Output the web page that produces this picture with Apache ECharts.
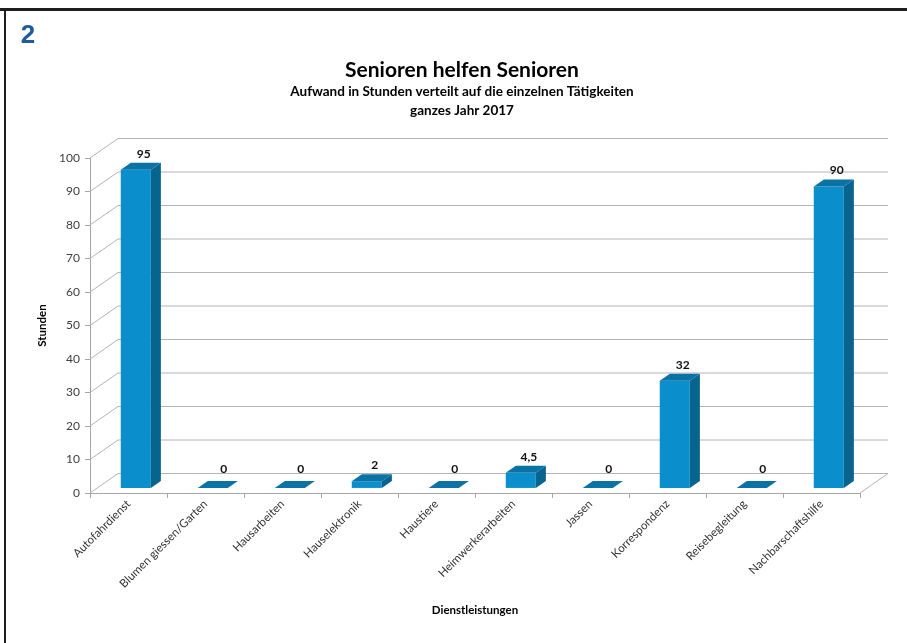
<!DOCTYPE html>
<html>
<head>
<meta charset="utf-8">
<script src="https://cdn.jsdelivr.net/npm/echarts@6/dist/echarts.min.js"></script>
<style>
html,body{margin:0;padding:0;background:#fff;}
#chart{width:907px;height:643px;}
</style>
</head>
<body>
<div id="chart"></div>
<script>
// ---- data ----
const categories = ['Autofahrdienst','Blumen giessen/Garten','Hausarbeiten','Hauselektronik','Haustiere','Heimwerkerarbeiten','Jassen','Korrespondenz','Reisebegleitung','Nachbarschaftshilfe'];
const hours = [95, 0, 0, 2, 0, 4.5, 0, 32, 0, 90];
const yTicks = [0,10,20,30,40,50,60,70,80,90,100];
const titleText = 'Senioren helfen Senioren';
const subtitle1 = 'Aufwand in Stunden verteilt auf die einzelnen Tätigkeiten';
const subtitle2 = 'ganzes Jahr 2017';
const pageNumber = '2';
const xName = 'Dienstleistungen';
const yName = 'Stunden';

// ---- style constants ----
const DX = 28, DY = -19.5;   // depth of the 3D box
const F0 = 0.26, F1 = 0.62;  // bar depth range
const BAR_W = 0.39;          // bar width as share of category band
const FONT = 'Lato, "Liberation Sans", sans-serif';
const GRID_COLOR = '#b4b4b4';

const chart = echarts.init(document.getElementById('chart'), null, {renderer:'canvas'});

function wallItem(params, api) {
  const cs = params.coordSys;
  const v = api.value(1);
  const y = api.coord([0, v])[1];
  const left = cs.x, right = cs.x + cs.width;
  return {
    type: 'polyline',
    shape: {points: [[left, y], [left + DX, y + DY], [right + DX, y + DY]]},
    style: {stroke: GRID_COLOR, lineWidth: 1, fill: null}
  };
}

function floorItem(params, api) {
  const cs = params.coordSys;
  const y = api.coord([0, 0])[1];
  const right = cs.x + cs.width;
  return {
    type: 'line',
    shape: {x1: right, y1: y, x2: right + DX, y2: y + DY},
    style: {stroke: GRID_COLOR, lineWidth: 1}
  };
}

function barItem(params, api) {
  const idx = api.value(0);
  const val = api.value(1);
  const base = api.coord([idx, 0]);
  const band = api.size([1, 0])[0];
  const w = band * BAR_W;
  const cx = base[0] + DX * F0;
  const yb = base[1] + DY * F0;
  const yt = api.coord([idx, val])[1] + DY * F0;
  const ddx = DX * (F1 - F0), ddy = DY * (F1 - F0);
  const xl = cx - w / 2, xr = cx + w / 2;
  const children = [];
  if (yb - yt > 0.5) {
    children.push({type:'rect', shape:{x:xl, y:yt, width:w, height:yb - yt}, style:{fill:'#0b8fcc'}});
    children.push({type:'polygon', shape:{points:[[xr,yt],[xr+ddx,yt+ddy],[xr+ddx,yb+ddy],[xr,yb]]}, style:{fill:'#06648f'}});
  }
  children.push({type:'polygon', shape:{points:[[xl,yt],[xr,yt],[xr+ddx,yt+ddy],[xl+ddx,yt+ddy]]}, style:{fill:'#0b72a6'}});
  const lift = val === 0 ? 12 : 9;
  children.push({type:'text', x: cx + (val === 0 ? 11 : 8), y: yt + ddy - lift,
    style:{text: String(val).replace('.', ','), font: 'bold 12px ' + FONT, fill:'#111', align:'center', verticalAlign:'middle'}});
  return {type:'group', children};
}

const option = {
  animation: false,
  backgroundColor: '#fff',
  graphic: [
    {type:'rect', shape:{x:0, y:8, width:907, height:3}, style:{fill:'#1e1e1e'}},
    {type:'rect', shape:{x:4, y:8, width:2, height:640}, style:{fill:'#1e1e1e'}},
    {type:'text', x:28, y:36, style:{text:pageNumber, font:'bold 26px "Liberation Sans", Arial, sans-serif', fill:'#1f5a9b', align:'center', verticalAlign:'middle'}},
    {type:'text', x:462, y:70, style:{text:titleText, font:'bold 21px ' + FONT, fill:'#000', align:'center', verticalAlign:'middle'}},
    {type:'text', x:462, y:92, style:{text:subtitle1, font:'bold 13.5px ' + FONT, fill:'#000', align:'center', verticalAlign:'middle'}},
    {type:'text', x:462, y:111, style:{text:subtitle2, font:'bold 13.5px ' + FONT, fill:'#000', align:'center', verticalAlign:'middle'}}
  ],
  grid: {left: 90, top: 158, width: 770, height: 335},
  xAxis: {
    type: 'category',
    data: categories,
    boundaryGap: true,
    axisLine: {show: true, lineStyle: {color: '#a6a6a6', width: 1}},
    axisTick: {show: true, interval: 0, length: 5, lineStyle: {color: '#a6a6a6'}},
    axisLabel: {interval: 0, rotate: 45, fontSize: 11.5, color: '#333', fontFamily: FONT, margin: 9},
    name: xName,
    nameLocation: 'middle',
    nameGap: 111,
    nameTextStyle: {fontWeight: 'bold', fontSize: 11.5, color: '#000', fontFamily: FONT},
    splitLine: {show: false}
  },
  yAxis: {
    type: 'value',
    min: 0, max: 100, interval: 10,
    axisLine: {show: true, lineStyle: {color: '#a6a6a6', width: 1}},
    axisTick: {show: true, length: 5, lineStyle: {color: '#a6a6a6'}},
    axisLabel: {fontSize: 12, color: '#404040', fontFamily: FONT, margin: 10},
    splitLine: {show: false},
    name: yName,
    nameLocation: 'middle',
    nameGap: 35,
    nameTextStyle: {fontWeight: 'bold', fontSize: 11.5, color: '#000', fontFamily: FONT}
  },
  series: [
    {type:'custom', renderItem: wallItem, data: yTicks.map(v => [0, v]), encode:{x:0, y:1}, z:1, silent:true},
    {type:'custom', renderItem: floorItem, data: [[0, 0]], encode:{x:0, y:1}, z:1, silent:true},
    {type:'custom', renderItem: barItem, data: hours.map((v, i) => [i, v]), encode:{x:0, y:1}, z:3}
  ]
};
chart.setOption(option);
</script>
</body>
</html>
